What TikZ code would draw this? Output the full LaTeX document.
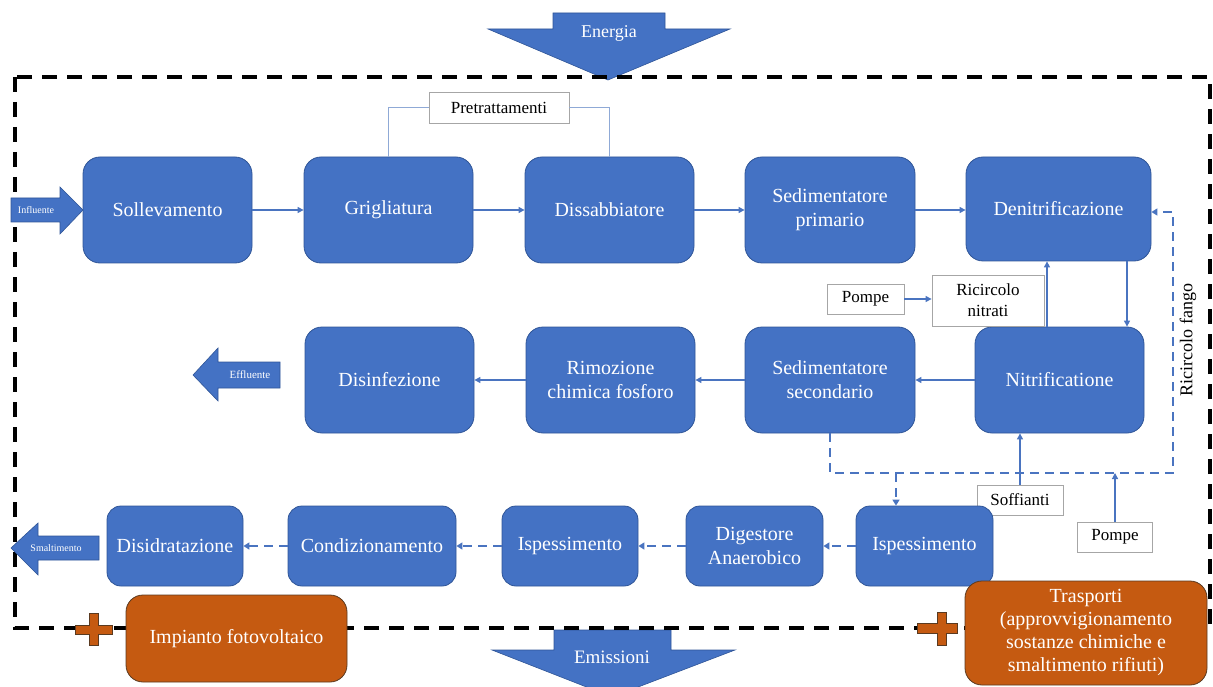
\documentclass[tikz,border=0pt]{standalone}
\usepackage{fontspec}
\setmainfont{Liberation Serif}
\usetikzlibrary{arrows.meta}
\definecolor{bfill}{HTML}{4472C4}
\definecolor{bdraw}{HTML}{2F5597}
\definecolor{ofill}{HTML}{C55A11}
\definecolor{odraw}{HTML}{5A3A20}
\definecolor{lblue}{HTML}{4A74C0}
\definecolor{pline}{HTML}{8FA9D6}
\definecolor{gbord}{HTML}{A6A6A6}
\begin{document}
\begin{tikzpicture}[x=1pt,y=-1pt,
  bbox/.style={draw=bdraw, line width=0.8pt, fill=bfill, rounded corners=17pt,
    text=white, font=\fontsize{20}{24}\selectfont, align=center, inner sep=0pt},
  obox/.style={draw=odraw, line width=0.8pt, fill=ofill, rounded corners=17pt,
    text=white, font=\fontsize{20}{23}\selectfont, align=center, inner sep=0pt},
  wbox/.style={draw=gbord, fill=white, line width=0.8pt,
    font=\fontsize{17}{21}\selectfont, align=center, inner sep=0pt},
  conn/.style={draw=lblue, line width=1.2pt, -{Triangle[length=6pt,width=6pt]}},
  dconn/.style={draw=lblue, line width=2.9pt, dash pattern=on 9pt off 6pt,
    -{Triangle[length=6pt,width=7pt]}},
  barrow/.style={fill=bfill, draw=bdraw, line width=0.6pt},
  cross/.style={fill=ofill, draw=odraw, line width=0.8pt},
  small/.style={text=white, font=\fontsize{10}{12}\selectfont, inner sep=0pt},
]
\useasboundingbox (0,0) rectangle (1213,687);

% block arrows
\path[barrow] (553,13) -- (665,13) -- (665,29) -- (730,29) -- (608,80) -- (488,29) -- (553,29) -- cycle;
\node[text=white, font=\fontsize{18}{20}\selectfont] (en) at (609,33) {Energia};

\path[barrow] (554,630) -- (671,630) -- (671,650) -- (735,650) -- (612,697) -- (492,650) -- (554,650) -- cycle;
\node[text=white, font=\fontsize{19}{20}\selectfont] (em) at (612,657) {Emissioni};

% system boundary
\draw[black, line width=3.8pt, dash pattern=on 15pt off 10pt] (15,77) rectangle (1210,628);

\path[barrow] (11,198) -- (60,198) -- (60,187) -- (83,210) -- (60,234) -- (60,222) -- (11,222) -- cycle;
\node[small] (inf) at (36,210) {Influente};

\path[barrow] (193,375) -- (218,348) -- (218,362) -- (280,362) -- (280,388) -- (218,388) -- (218,401) -- cycle;
\node[small, font=\fontsize{11}{12}\selectfont] (eff) at (250,375) {Effluente};

\path[barrow] (11,548) -- (38,523) -- (38,536) -- (99,536) -- (99,560) -- (38,560) -- (38,575) -- cycle;
\node[small] (sma) at (56,548) {Smaltimento};

% row 1
\node[bbox, minimum width=169pt, minimum height=106pt] (sol) at (167.5,210) {Sollevamento};
\node[bbox, minimum width=169pt, minimum height=106pt] (gri) at (388.5,210) {Grigliatura};
\node[bbox, minimum width=169pt, minimum height=106pt] (dis) at (609.5,210) {Dissabbiatore};
\node[bbox, minimum width=170pt, minimum height=106pt] (sedp) at (830,210) {Sedimentatore\\primario};
\node[bbox, minimum width=185pt, minimum height=104pt] (den) at (1058.5,209) {Denitrificazione};

% row 2
\node[bbox, minimum width=169pt, minimum height=106pt] (disin) at (389.5,380) {Disinfezione};
\node[bbox, minimum width=169pt, minimum height=106pt] (rim) at (610.5,380) {Rimozione\\chimica fosforo};
\node[bbox, minimum width=170pt, minimum height=106pt] (seds) at (830,380) {Sedimentatore\\secondario};
\node[bbox, minimum width=169pt, minimum height=106pt] (nit) at (1059.5,380) {Nitrificatione};

% white boxes
\node[wbox, minimum width=140pt, minimum height=31pt] (pre) at (499,107.5) {Pretrattamenti};
\node[wbox, minimum width=77pt, minimum height=30pt] (pom1) at (865.5,299) {Pompe};
\node[wbox, minimum width=112pt, minimum height=51pt] (ricn) at (988,300.5) {Ricircolo\\nitrati};
\node[wbox, minimum width=86pt, minimum height=30pt] (soff) at (1020,500) {Soffianti};
\node[wbox, minimum width=75pt, minimum height=30pt] (pom2) at (1115,537) {Pompe};

% row 3
\node[bbox, rounded corners=14pt, minimum width=136pt, minimum height=80pt] (disid) at (175,546) {Disidratazione};
\node[bbox, rounded corners=14pt, minimum width=168pt, minimum height=80pt] (cond) at (372,546) {Condizionamento};
\node[bbox, rounded corners=14pt, minimum width=136pt, minimum height=80pt] (isp1) at (570,546) {Ispessimento};
\node[bbox, rounded corners=14pt, minimum width=137pt, minimum height=80pt] (dig) at (754.5,546) {Digestore\\Anaerobico};
\node[bbox, rounded corners=14pt, minimum width=137pt, minimum height=80pt] (isp2) at (924.5,546) {Ispessimento};

% orange
\node[obox, minimum width=221pt, minimum height=87pt] (imp) at (236.5,638.5) {Impianto fotovoltaico};
\node[obox, minimum width=242pt, minimum height=104pt] (tra) at (1086,633) {Trasporti\\(approvvigionamento\\sostanze chimiche e\\smaltimento rifiuti)};

% crosses
\path[cross] (89,613) -- (98,613) -- (98,625) -- (112,625) -- (112,634) -- (98,634) -- (98,645) -- (89,645) -- (89,634) -- (75,634) -- (75,625) -- (89,625) -- cycle;
\path[cross] (937,612) -- (946,612) -- (946,623) -- (957,623) -- (957,633) -- (946,633) -- (946,645) -- (937,645) -- (937,633) -- (917,633) -- (917,623) -- (937,623) -- cycle;

% connectors row 1
\draw[conn] (sol) -- (gri);
\draw[conn] (gri) -- (dis);
\draw[conn] (dis) -- (sedp);
\draw[conn] (sedp.east) -- (sedp.east -| den.west);
\draw[draw=pline, line width=1.2pt] (gri.north) |- (pre.west);
\draw[draw=pline, line width=1.2pt] (pre.east) -| (dis.north);

\coordinate (xa) at (1127,0);
\coordinate (xb) at (1047,0);
\draw[conn] (den.south -| xa) -- (nit.north -| xa);
\draw[conn] (nit.north -| xb) -- (den.south -| xb);
\draw[conn] (pom1.east) -- (pom1.east -| ricn.west);

% row 2
\draw[conn] (nit) -- (seds);
\draw[conn] (seds) -- (rim);
\draw[conn] (rim) -- (disin);

% sludge recirculation
\coordinate (c1) at (830,473);
\coordinate (c2) at (1173,473);
\coordinate (c3) at (1173,212);
\coordinate (c4) at (896,473);
\draw[dconn] (seds.south) -- (c1) -- (c2) -- (c3) -- (c3 -| den.east);
\draw[dconn] (c4) -- (c4 |- isp2.north);
\node[rotate=90, font=\fontsize{18}{20}\selectfont] (rf) at (1188,340) {Ricircolo fango};
\draw[conn] (soff.north) -- (soff.north |- nit.south);
\draw[conn] (pom2.north) -- (pom2.north |- c2);

% row 3
\draw[dconn] (isp2) -- (dig);
\draw[dconn] (dig) -- (isp1);
\draw[dconn] (isp1) -- (cond);
\draw[dconn] (cond) -- (disid);
\end{tikzpicture}
\end{document}
